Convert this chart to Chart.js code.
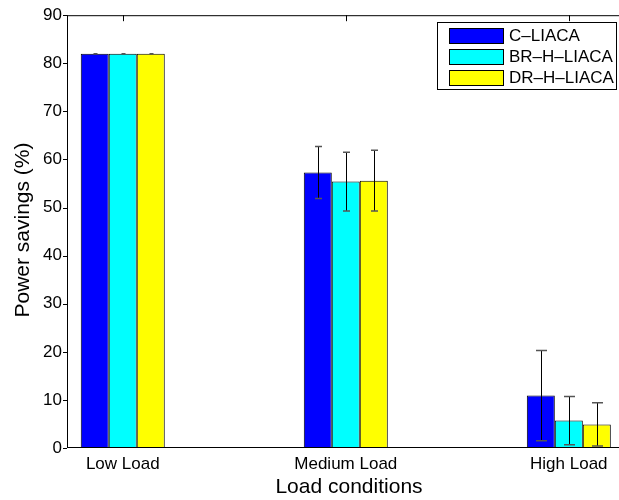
<!DOCTYPE html>
<html>
<head>
<meta charset="utf-8">
<script src="https://cdn.jsdelivr.net/npm/chart.js@4"></script>
<style>
  html, body { margin: 0; padding: 0; background: #fff; overflow: hidden; }
  #wrap { width: 619px; height: 500px; }
</style>
</head>
<body>
<div id="wrap"><canvas id="c" width="619" height="500"></canvas></div>
<script>
// Load scenarios and algorithm variants
const categories = ['Low Load', 'Medium Load', 'High Load'];
const seriesNames = ['C–LIACA', 'BR–H–LIACA', 'DR–H–LIACA'];

// Mean power savings (%) per load condition
const cLiaca   = [82.0, 57.3, 10.9];
const brHLiaca = [82.0, 55.4, 5.7];
const drHLiaca = [82.0, 55.6, 4.9];

// Error bar half-ranges (%)
const cLiacaErr   = [0, 5.4, 9.4];
const brHLiacaErr = [0, 6.1, 5.0];
const drHLiacaErr = [0, 6.3, 4.5];

// Y axis tick values
const yTicks = [0, 10, 20, 30, 40, 50, 60, 70, 80, 90];

const seriesColors = ['#0000ff', '#00ffff', '#ffff00'];
const seriesValues = [cLiaca, brHLiaca, drHLiaca];
const seriesErrors = [cLiacaErr, brHLiacaErr, drHLiacaErr];
const capHalf = [2, 3.5, 5.5];
const FONT = '"Liberation Sans", Arial, Helvetica, sans-serif';

const datasets = seriesValues.map((vals, s) => ({
  label: seriesNames[s],
  data: vals.map((v, i) => ({ x: i + 1, y: v })),
  backgroundColor: seriesColors[s],
  borderColor: '#000',
  borderWidth: 1,
  categoryPercentage: 84 / 223,
  barPercentage: 1,
  errors: seriesErrors[s]
}));

const decorations = {
  id: 'decorations',
  afterDatasetsDraw(chart) {
    const ctx = chart.ctx;
    const { left, top, right, bottom } = chart.chartArea;
    const yS = chart.scales.y, xS = chart.scales.x;
    ctx.save();

    // error bars
    chart.data.datasets.forEach((ds, d) => {
      const meta = chart.getDatasetMeta(d);
      meta.data.forEach((bar, i) => {
        const v = ds.data[i].y, e = ds.errors[i];
        const x = Math.round(bar.x) + 0.5;
        const yHi = yS.getPixelForValue(v + e);
        const yLo = yS.getPixelForValue(v - e);
        ctx.strokeStyle = '#000';
        ctx.lineWidth = 1;
        ctx.beginPath();
        ctx.moveTo(x, yHi); ctx.lineTo(x, yLo);
        ctx.stroke();
        ctx.strokeStyle = '#555';
        ctx.lineWidth = 1.5;
        ctx.beginPath();
        ctx.moveTo(x - capHalf[i], yHi); ctx.lineTo(x + capHalf[i], yHi);
        ctx.moveTo(x - capHalf[i], yLo); ctx.lineTo(x + capHalf[i], yLo);
        ctx.stroke();
      });
    });

    // axes frame
    ctx.strokeStyle = '#000';
    ctx.lineWidth = 1;
    ctx.beginPath();
    ctx.moveTo(left + 0.5, top); ctx.lineTo(left + 0.5, bottom);
    ctx.moveTo(left, top + 0.5); ctx.lineTo(right, top + 0.5);
    ctx.moveTo(left, bottom - 0.5); ctx.lineTo(right, bottom - 0.5);
    // y ticks
    yTicks.forEach(t => {
      const y = Math.round(yS.getPixelForValue(t)) + 0.5;
      ctx.moveTo(left - 4, y); ctx.lineTo(left, y);
    });
    // top category ticks
    categories.forEach((c, i) => {
      const x = Math.round(xS.getPixelForValue(i + 1)) + 0.5;
      ctx.moveTo(x, top); ctx.lineTo(x, top + 6);
    });
    ctx.stroke();

    // axis titles
    ctx.fillStyle = '#000';
    ctx.font = '21px ' + FONT;
    ctx.textAlign = 'center';
    ctx.textBaseline = 'alphabetic';
    ctx.fillText('Load conditions', 349, 493);
    ctx.save();
    ctx.translate(29, 230);
    ctx.rotate(-Math.PI / 2);
    ctx.fillText('Power savings (%)', 0, 0);
    ctx.restore();

    // legend
    ctx.fillStyle = '#fff';
    ctx.fillRect(437.5, 22.5, 179, 67);
    ctx.strokeStyle = '#000';
    ctx.strokeRect(437.5, 22.5, 179, 67);
    ctx.font = '17px ' + FONT;
    ctx.textAlign = 'left';
    ctx.textBaseline = 'middle';
    seriesNames.forEach((name, s) => {
      const y0 = 28 + s * 21;
      ctx.fillStyle = seriesColors[s];
      ctx.fillRect(449.5, y0 + 0.5, 54, 15);
      ctx.strokeStyle = '#000';
      ctx.strokeRect(449.5, y0 + 0.5, 54, 15);
      ctx.fillStyle = '#000';
      ctx.fillText(name, 509, y0 + 8.5);
    });
    ctx.restore();
  }
};

new Chart(document.getElementById('c'), {
  type: 'bar',
  data: { datasets },
  options: {
    responsive: false,
    animation: false,
    devicePixelRatio: 1,
    layout: { padding: { top: 14, left: 0, right: 0, bottom: 0 } },
    plugins: { legend: { display: false }, tooltip: { enabled: false } },
    scales: {
      x: {
        type: 'linear',
        min: 0.75,
        max: 3.225,
        offset: false,
        grid: { display: false, drawTicks: false },
        border: { display: false },
        afterBuildTicks: s => { s.ticks = categories.map((c, i) => ({ value: i + 1 })); },
        afterFit: s => { s.height = 52; },
        ticks: {
          autoSkip: false,
          maxRotation: 0,
          padding: 6,
          color: '#000',
          font: { family: FONT, size: 17 },
          callback: v => categories[v - 1] ?? ''
        }
      },
      y: {
        min: 0,
        max: 90,
        grid: { display: false, drawTicks: false },
        border: { display: false },
        afterBuildTicks: s => { s.ticks = yTicks.map(v => ({ value: v })); },
        afterFit: s => { s.width = 67; },
        ticks: {
          padding: 5,
          color: '#000',
          font: { family: FONT, size: 17 }
        }
      }
    }
  },
  plugins: [decorations]
});
</script>
</body>
</html>
